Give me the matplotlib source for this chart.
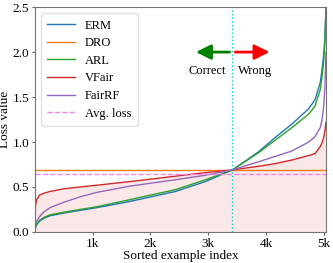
import matplotlib
matplotlib.use('Agg')
import matplotlib.pyplot as plt

plt.rcParams['font.family'] = ['Liberation Serif', 'DejaVu Serif']
plt.rcParams['mathtext.fontset'] = 'stix'

# sorted example index (sample points)
idx = [0, 10, 30, 80, 150, 260, 500, 780, 1070, 1650, 2430, 2950, 3420,
       3870, 4160, 4450, 4740, 4850, 4940, 4970, 5000, 5020, 5040]

erm = [0.01, 0.05, 0.08, 0.12, 0.15, 0.18, 0.21, 0.24, 0.27, 0.34, 0.45, 0.56, 0.69,
       0.89, 1.05, 1.20, 1.37, 1.47, 1.66, 1.80, 1.97, 2.15, 2.5]
arl = [0.02, 0.06, 0.09, 0.13, 0.16, 0.19, 0.22, 0.25, 0.28, 0.36, 0.47, 0.58, 0.69,
       0.88, 1.02, 1.16, 1.31, 1.40, 1.58, 1.72, 1.90, 2.10, 2.5]
vfair = [0.20, 0.30, 0.36, 0.41, 0.43, 0.45, 0.48, 0.50, 0.52, 0.56, 0.62, 0.66, 0.69,
         0.73, 0.76, 0.80, 0.85, 0.87, 0.95, 0.99, 1.05, 1.12, 1.22]
fairrf = [0.08, 0.10, 0.12, 0.17, 0.22, 0.27, 0.33, 0.39, 0.44, 0.51, 0.58, 0.63, 0.69,
          0.78, 0.84, 0.90, 1.00, 1.06, 1.16, 1.24, 1.40, 1.60, 2.0]
dro_loss = 0.693
avg_loss = 0.64
split_idx = 3420

fig = plt.figure(figsize=(3.33, 2.63), dpi=100)
ax = fig.add_axes([0.105, 0.118, 0.874, 0.855])

ax.plot(idx, erm, color='tab:blue', lw=1, label='ERM')
ax.axhline(dro_loss, color='tab:orange', lw=1, label='DRO')
ax.plot(idx, arl, color='tab:green', lw=1, label='ARL')
ax.plot(idx, vfair, color='tab:red', lw=1, label='VFair')
ax.plot(idx, fairrf, color='tab:purple', lw=1, label='FairRF')
ax.axhline(avg_loss, color='violet', lw=1, ls='--', label='Avg. loss')
ax.fill_between(idx, 0, vfair, color='tab:red', alpha=0.1, lw=0)
ax.axvline(split_idx, color='darkturquoise', lw=1, ls=':')

ax.annotate('', xy=(2740, 2.0), xytext=(split_idx, 2.0),
            arrowprops=dict(arrowstyle='-|>,head_width=0.45,head_length=0.9',
                            color='green', lw=2))
ax.annotate('', xy=(4110, 2.0), xytext=(split_idx, 2.0),
            arrowprops=dict(arrowstyle='-|>,head_width=0.45,head_length=0.9',
                            color='red', lw=2))
ax.text(2990, 1.79, 'Correct', ha='center', va='center', fontsize=9)
ax.text(3810, 1.79, 'Wrong', ha='center', va='center', fontsize=9)

ax.set_xlim(0, idx[-1])
ax.set_ylim(0, 2.5)
ax.set_xticks([1000, 2000, 3000, 4000, 5000])
ax.set_xticklabels(['1k', '2k', '3k', '4k', '5k'])
ax.set_yticks([0.0, 0.5, 1.0, 1.5, 2.0, 2.5])
ax.tick_params(labelsize=9.5, length=2.5, pad=1.5, color='0.4')
for s in ax.spines.values():
    s.set_color('0.45')
ax.set_xlabel('Sorted example index', fontsize=9.5, labelpad=0)
ax.set_ylabel('Loss value', fontsize=9.5, labelpad=1)
ax.legend(loc='upper left', fontsize=9, handlelength=2.2, labelspacing=0.45,
          borderpad=0.5, edgecolor='0.85')

fig.savefig('out.png', dpi=100)
